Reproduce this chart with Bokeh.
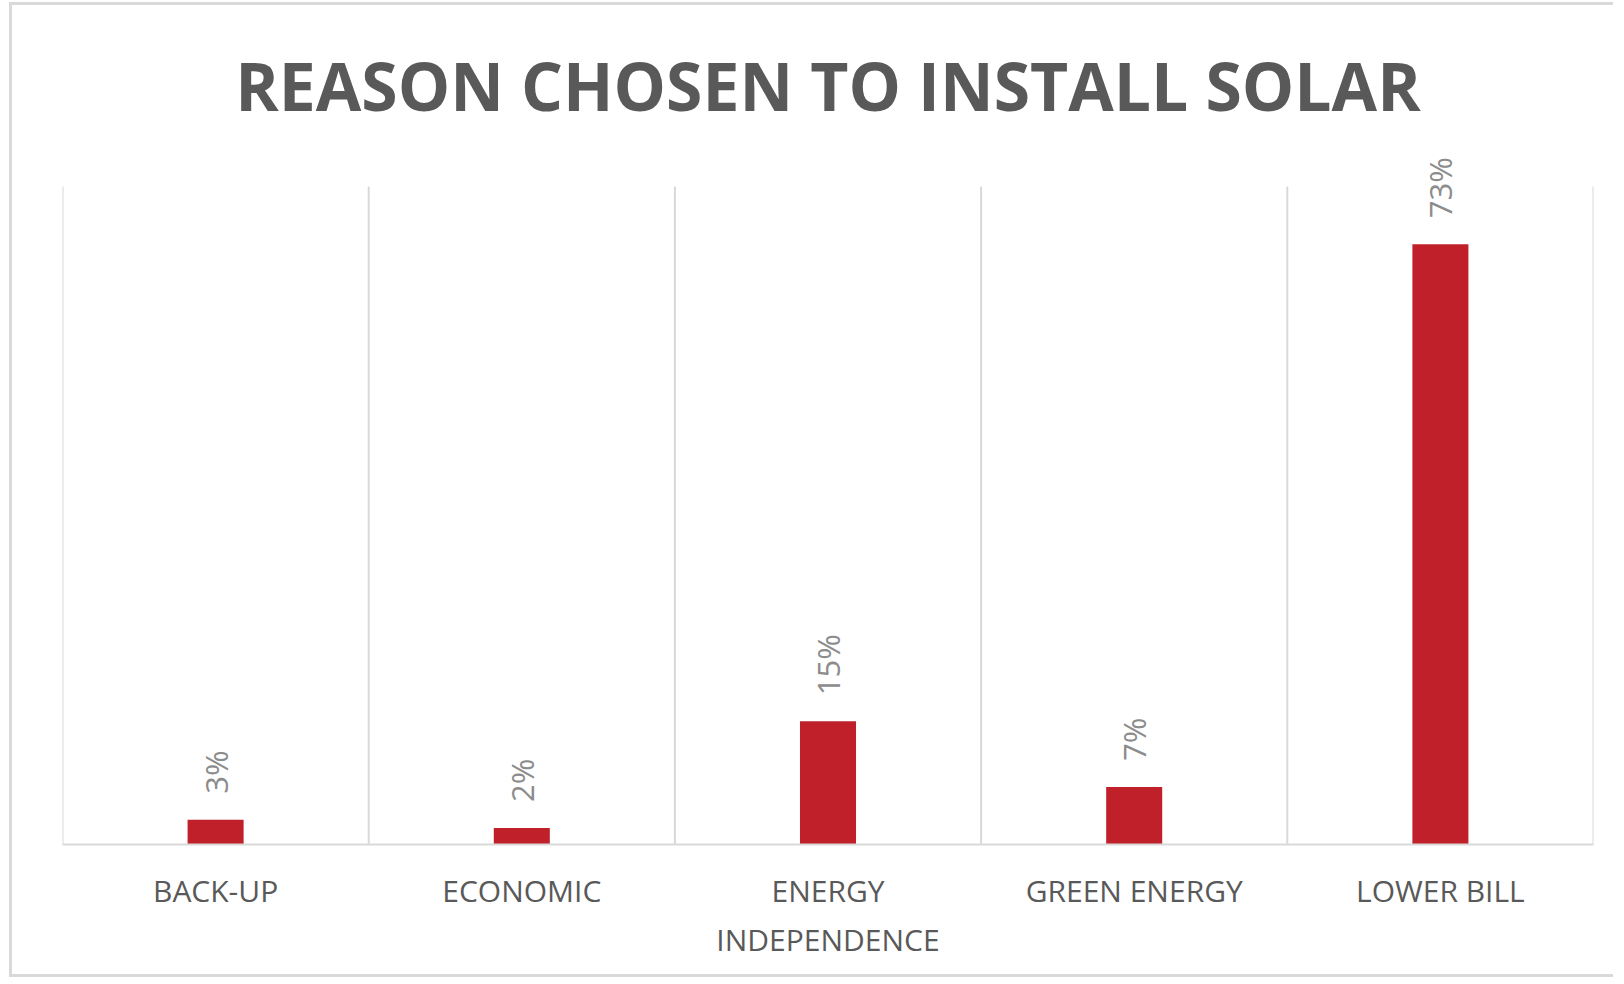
from bokeh.plotting import figure
from bokeh.models import FixedTicker, Range1d, ColumnDataSource, LabelSet
from bokeh.core.properties import value
from bokeh.embed import file_html
from bokeh.resources import INLINE
from math import pi

categories = ["BACK-UP", "ECONOMIC", "ENERGY\nINDEPENDENCE", "GREEN ENERGY", "LOWER BILL"]
values = [3, 2, 15, 7, 73]
labels = ["3%", "2%", "15%", "7%", "73%"]
axis_max = 80      # value-axis maximum of the original chart
view_max = 85      # extra headroom so the top data label is not clipped

xs = list(range(len(categories)))
src = ColumnDataSource(dict(x=xs, top=values, label=labels))
edges = [x - 0.5 for x in range(len(categories) + 1)]

p = figure(width=1604, height=975, output_backend="svg", toolbar_location=None,
           x_range=Range1d(-0.5, len(categories) - 0.5), y_range=Range1d(0, view_max),
           min_border_left=50, min_border_right=23, min_border_top=140, min_border_bottom=136)

p.title.text = "REASON CHOSEN TO INSTALL SOLAR"
p.title.align = "center"
p.title.text_font = "Open Sans"
p.title.text_font_style = "bold"
p.title.text_font_size = "66px"
p.title.text_color = "#595959"
p.title.standoff = 32

p.segment(x0=edges, y0=[0] * len(edges), x1=edges, y1=[axis_max] * len(edges),
          line_color="#d9d9d9", line_width=2)
p.vbar(x="x", top="top", width=0.183, source=src, fill_color="#C0202A", line_color=None)
p.add_layout(LabelSet(x="x", y="top", text="label", source=src, angle=pi / 2,
                      text_align="left", text_baseline="middle", y_offset=26,
                      text_font=value("Open Sans"), text_font_size="31px", text_color="#8c8c8c"))

p.yaxis.visible = False
p.grid.visible = False

ax = p.xaxis[0]
ax.ticker = FixedTicker(ticks=xs)
ax.major_label_overrides = {i: c for i, c in enumerate(categories)}
ax.major_tick_line_color = None
ax.minor_tick_line_color = None
ax.axis_line_color = "#d9d9d9"
ax.axis_line_width = 2
ax.major_label_standoff = 19
ax.major_label_text_font = "Open Sans"
ax.major_label_text_font_size = "30px"
ax.major_label_text_color = "#595959"

p.outline_line_color = None
p.styles = {"margin-left": "9px", "margin-top": "2px",
            "border-left": "3px solid #d9d9d9", "border-top": "3px solid #d9d9d9",
            "border-bottom": "3px solid #d9d9d9"}

open("out.html", "w").write(file_html(p, INLINE))
